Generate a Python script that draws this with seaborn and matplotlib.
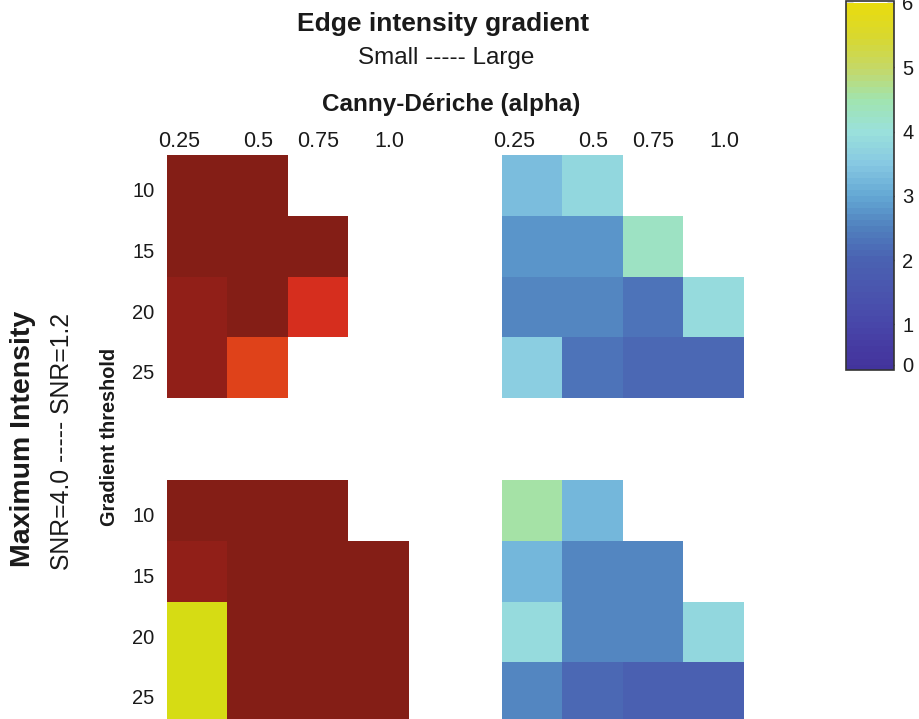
import numpy as np
import pandas as pd
import matplotlib
matplotlib.use("Agg")
import matplotlib.pyplot as plt
import matplotlib.cm as cm
from matplotlib.colors import LinearSegmentedColormap, Normalize
import seaborn as sns

# ── Data ───────────────────────────────────────────────
alphas = ["0.25", "0.5", "0.75", "1.0"]
thresholds = ["10", "15", "20", "25"]
nan = np.nan

# small edge gradient (left column of panels)
small_snr12 = [[10.0, 10.0, nan, nan],
               [10.0, 10.0, 10.0, nan],
               [9.6, 10.0, 8.6, nan],
               [9.6, 8.0, nan, nan]]
small_snr40 = [[10.0, 10.0, 10.0, nan],
               [9.6, 10.0, 10.0, 10.0],
               [5.5, 10.0, 10.0, 10.0],
               [5.5, 10.0, 10.0, 10.0]]

# large edge gradient (right column of panels)
large_snr12 = [[3.3, 3.8, nan, nan],
               [2.8, 2.8, 4.3, nan],
               [2.6, 2.6, 2.3, 3.9],
               [3.6, 2.3, 2.1, 2.1]]
large_snr40 = [[4.5, 3.2, nan, nan],
               [3.2, 2.6, 2.6, nan],
               [3.9, 2.6, 2.6, 3.8],
               [2.6, 2.1, 1.9, 1.9]]

cbar_ticks = [0.37, 1, 2, 3, 4, 5, 6]
cbar_labels = ["0", "1", "2", "3", "4", "5", "6"]

# ── Style ──────────────────────────────────────────────
sns.set_theme(style="white")
plt.rcParams["font.family"] = ["Liberation Sans", "DejaVu Sans"]
plt.rcParams["text.color"] = "#1a1a1a"
plt.rcParams["xtick.color"] = "#1a1a1a"
plt.rcParams["ytick.color"] = "#1a1a1a"

parula = LinearSegmentedColormap.from_list(
    "parula_soft",
    [(0.0, "#3f2e96"), (1 / 12, "#4538a0"), (2 / 12, "#4848aa"),
     (3 / 12, "#4a55ae"), (4 / 12, "#4a62b2"), (5 / 12, "#5080be"),
     (6 / 12, "#64a8d4"), (7 / 12, "#86c8e2"), (8 / 12, "#9ae0dc"),
     (9 / 12, "#a0e4b0"), (10 / 12, "#c4d868"), (11 / 12, "#d8d830"),
     (1.0, "#e8dc10")], N=64)
warm = LinearSegmentedColormap.from_list(
    "warm",
    [(0.0, "#d6dc14"), (0.55, "#e0431a"), (0.7, "#d52c1e"),
     (0.92, "#8f1f18"), (1.0, "#841e16")])

fig = plt.figure(figsize=(9.2, 7.19), dpi=100)

W, H = 242 / 920, 243 / 719
panels = [
    (small_snr12, [167 / 920, 321 / 719, W, H], warm, 5.5, 10, True, True),
    (large_snr12, [502 / 920, 321 / 719, W, H], parula, 0, 6, True, False),
    (small_snr40, [167 / 920, -4 / 719, W, H], warm, 5.5, 10, False, True),
    (large_snr40, [502 / 920, -4 / 719, W, H], parula, 0, 6, False, False),
]

xpos = np.arange(4) + 0.5 + np.array([-0.3, 0.0, 0.0, 0.17])
ypos = np.arange(4) + 0.5 + 0.07

for values, rect, cmap, lo, hi, show_x, show_y in panels:
    ax = fig.add_axes(rect)
    df = pd.DataFrame(values, index=thresholds, columns=alphas)
    sns.heatmap(df, ax=ax, cmap=cmap, vmin=lo, vmax=hi, cbar=False,
                xticklabels=False, yticklabels=False, square=False)
    ax.xaxis.tick_top()
    if show_x:
        ax.set_xticks(xpos)
        ax.set_xticklabels(alphas, fontsize=15.5)
    else:
        ax.set_xticks([])
    if show_y:
        ax.set_yticks(ypos)
        ax.set_yticklabels(thresholds, fontsize=14.5, rotation=0)
    else:
        ax.set_yticks([])
    ax.tick_params(axis="x", length=0, pad=2.5)
    ax.tick_params(axis="y", length=0, pad=9)
    ax.set_xlabel("")
    ax.set_ylabel("")

# ── Colorbar ───────────────────────────────────────────
cax = fig.add_axes([846 / 920, 349 / 719, 48 / 920, 369 / 719])
sm = cm.ScalarMappable(norm=Normalize(0, 6), cmap=parula)
cb = fig.colorbar(sm, cax=cax)
cax.set_ylim(0.29, 6.03)
cb.set_ticks(cbar_ticks)
cb.set_ticklabels(cbar_labels)
cb.outline.set_edgecolor("#333333")
cb.outline.set_linewidth(1.2)
cax.tick_params(direction="in", left=True, right=True, length=5,
                width=1, colors="#333333", labelsize=14.5, labelcolor="#1a1a1a", pad=6)

# ── Texts ──────────────────────────────────────────────
fig.text(443 / 920, 1 - 24 / 719, "Edge intensity gradient", ha="center", va="center",
         fontsize=19, fontweight="bold")
fig.text(446 / 920, 1 - 58 / 719, "Small ----- Large", ha="center", va="center", fontsize=17.5)
fig.text(451 / 920, 1 - 105 / 719, "Canny-Dériche (alpha)", ha="center", va="center",
         fontsize=17.5, fontweight="bold")
fig.text(23 / 920, 1 - 439 / 719, "Maximum Intensity", ha="center", va="center",
         rotation=90, fontsize=20.5, fontweight="bold")
fig.text(62 / 920, 1 - 442 / 719, "SNR=4.0 ----- SNR=1.2", ha="center", va="center",
         rotation=90, fontsize=17.8)
fig.text(110 / 920, 1 - 437 / 719, "Gradient threshold", ha="center", va="center",
         rotation=90, fontsize=14.3, fontweight="bold")

plt.savefig("out.png", dpi=100)
plt.close(fig)
